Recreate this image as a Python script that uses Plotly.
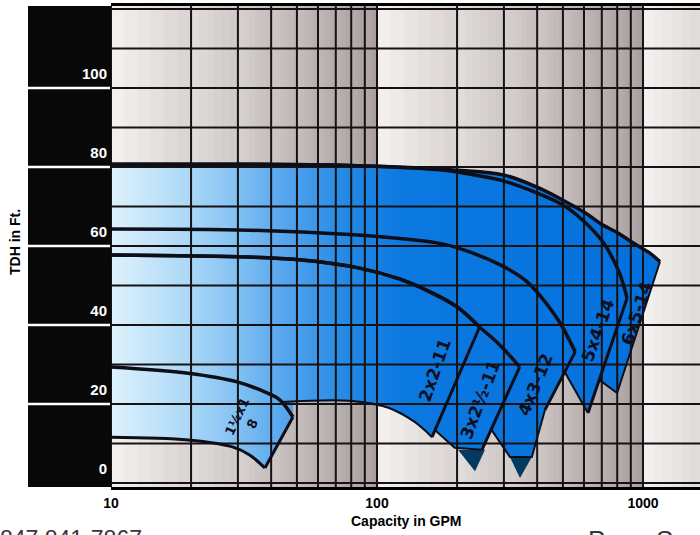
import numpy as np
import plotly.graph_objects as go

# ---------------- data ----------------
x_tick_vals = [10, 100, 1000]
y_tick_vals = [0, 20, 40, 60, 80, 100]
grid_gpm = [10, 20, 30, 40, 50, 60, 70, 80, 90, 100,
            200, 300, 400, 500, 600, 700, 800, 900, 1000]
grid_ft = list(range(0, 121, 10))

# 1 1/2 x 1 - 8
p1_top_gpm = [10, 19.5, 29.8, 38.6, 43.2, 48.3]
p1_top_ft = [29.4, 27.8, 25.6, 22.8, 21.0, 16.7]
p1_bot_gpm = [10, 19.5, 28.8, 33.2, 37.9]
p1_bot_ft = [11.6, 10.9, 9.1, 7.1, 3.8]
p1_hid_gpm = []
p1_hid_ft = []

# 2 x 2 - 11
p2_top_gpm = [10, 33, 51, 86, 122, 158, 200, 243]
p2_top_ft = [57.7, 57.2, 56.5, 54.4, 51.6, 48.4, 44.6, 39.5]
p2_bot_gpm = [43.9, 79, 111, 139, 161]
p2_bot_ft = [20.5, 20.8, 19.0, 15.4, 11.6]
p2_hid_gpm = [10]
p2_hid_ft = [21.0]

# 3 x 2 1/2 - 11
p3_top_gpm = [10, 33, 51, 86, 122, 158, 200, 243, 290, 344]
p3_top_ft = [57.7, 57.2, 56.5, 54.4, 51.6, 48.4, 44.6, 39.5, 34.9, 29.4]
p3_bot_gpm = [165, 196, 248]
p3_bot_ft = [13.4, 8.9, 8.4]
p3_hid_gpm = [130, 10]
p3_hid_ft = [20, 25]

# 4 x 3 - 12
p4_top_gpm = [10, 33, 79, 122, 168, 200, 297, 366, 421, 488, 556]
p4_top_ft = [64.3, 64.0, 62.9, 61.9, 60.8, 59.6, 54.9, 51.0, 46.5, 40.5, 33.2]
p4_bot_gpm = [270, 316, 382, 428]
p4_bot_ft = [13.4, 6.6, 6.6, 18.5]
p4_hid_gpm = [240, 10]
p4_hid_ft = [25, 30]

# 5 x 4 - 14
p5_top_gpm = [10, 79, 172, 200, 298, 400, 500, 592, 707, 815, 871]
p5_top_ft = [80.7, 80.4, 79.3, 78.7, 76.5, 73.4, 70.4, 66.6, 61.0, 53.2, 46.8]
p5_bot_gpm = [508, 621]
p5_bot_ft = [28.1, 17.7]
p5_hid_gpm = [450, 10]
p5_hid_ft = [35, 40]

# 6 x 5 - 14
p6_top_gpm = [10, 79, 200, 298, 400, 500, 600, 707, 805, 917, 1062, 1158]
p6_top_ft = [80.7, 80.4, 79.2, 78.0, 74.9, 71.6, 68.6, 65.3, 63.3, 60.8, 58.2, 56.0]
p6_bot_gpm = [685, 799]
p6_bot_ft = [26.1, 22.8]
p6_hid_gpm = [640, 10]
p6_hid_ft = [32, 45]

# NPSH triangles
t1_gpm = [201.6, 254.7, 233.6]
t1_ft = [8.4, 8.4, 3.0]
t2_gpm = [316, 382, 344.8]
t2_ft = [6.6, 6.6, 1.3]

label_text = ["1½x1<br>8", "2x2-11", "3x2½-11", "4x3-12", "5x4-14", "6x5-14"]
label_gpm = [31.9, 165, 244, 393, 677, 949]
label_ft = [15.9, 28.6, 21.0, 24.8, 38.7, 43.0]
label_angle = [-65, -71, -69, -68, -70, -72]

# ---------------- layout constants ----------------
W, H = 700, 535
ML, MR, MT, MB = 111, 0, 6, 48
X_RANGE = [1.0, 1.0 + (W - ML) / 266.0]
Y_RANGE = [-1.01, 120.76]
PW = W - ML - MR
PH = H - MT - MB

def px_to_paper_x(px):
    return (px - ML) / PW

def px_to_paper_y(py):
    return (H - MB - py) / PH

pumps = [
    (p1_top_gpm, p1_top_ft, p1_bot_gpm, p1_bot_ft, p1_hid_gpm, p1_hid_ft),
    (p2_top_gpm, p2_top_ft, p2_bot_gpm, p2_bot_ft, p2_hid_gpm, p2_hid_ft),
    (p3_top_gpm, p3_top_ft, p3_bot_gpm, p3_bot_ft, p3_hid_gpm, p3_hid_ft),
    (p4_top_gpm, p4_top_ft, p4_bot_gpm, p4_bot_ft, p4_hid_gpm, p4_hid_ft),
    (p5_top_gpm, p5_top_ft, p5_bot_gpm, p5_bot_ft, p5_hid_gpm, p5_hid_ft),
    (p6_top_gpm, p6_top_ft, p6_bot_gpm, p6_bot_ft, p6_hid_gpm, p6_hid_ft),
]

polys = []
for tg, tf, bg, bf, hg, hf in pumps:
    gx = list(tg) + list(bg)[::-1] + list(hg)
    gy = list(tf) + list(bf)[::-1] + list(hf)
    polys.append((np.log10(gx), np.array(gy, dtype=float)))


def extent(lx_poly, y_poly, lx):
    ys = []
    n = len(lx_poly)
    for i in range(n):
        x1, y1 = lx_poly[i], y_poly[i]
        x2, y2 = lx_poly[(i + 1) % n], y_poly[(i + 1) % n]
        if x1 == x2:
            continue
        if min(x1, x2) - 1e-12 <= lx <= max(x1, x2) + 1e-12:
            t = (lx - x1) / (x2 - x1)
            ys.append(y1 + t * (y2 - y1))
    if not ys:
        return None
    return min(ys), max(ys)


max_lx = max(p[0].max() for p in polys)
samples = set(np.round(np.linspace(1.0, max_lx, 1400), 6))
for p in polys:
    for v in p[0]:
        samples.add(round(float(v), 6))
samples = sorted(s for s in samples if 1.0 <= s <= max_lx)

up_x, up_y, lo_y = [], [], []
for s in samples:
    lows, highs = [], []
    for lxp, yp in polys:
        e = extent(lxp, yp, s)
        if e is not None:
            lows.append(e[0])
            highs.append(e[1])
    if lows:
        up_x.append(s)
        up_y.append(max(highs))
        lo_y.append(min(lows))

union_x = list(10 ** np.array(up_x)) + list(10 ** np.array(up_x))[::-1]
union_y = up_y + lo_y[::-1]

fig = go.Figure()

# background grey gradient (per decade, per column)
col_edges = grid_gpm + [10 ** X_RANGE[1] * 1.01]
edges_l = []
zrow = []
for a, b in zip(col_edges[:-1], col_edges[1:]):
    la, lb = np.log10(a), np.log10(b)
    sub = np.linspace(la, lb, 7)
    for i in range(6):
        c = 0.5 * (sub[i] + sub[i + 1])
        f = c - np.floor(c + 1e-9)
        cf = (c - la) / (lb - la)
        zrow.append(float(np.clip(0.85 * f + 0.12 * cf, 0, 1)))
        edges_l.append(sub[i])
edges_l.append(np.log10(col_edges[-1]))
fig.add_trace(go.Heatmap(
    x=list(10 ** np.array(edges_l)), y=[-2, 122], z=[zrow],
    zmin=0, zmax=1, showscale=False, hoverinfo="skip",
    colorscale=[[0, "rgb(244,242,240)"], [0.5, "rgb(208,202,200)"], [1, "rgb(162,152,152)"]],
))

# blue operating region with horizontal gradient
fig.add_trace(go.Scatter(
    x=union_x, y=union_y, mode="lines", fill="toself",
    line=dict(width=0, color="rgba(0,0,0,0)"),
    fillgradient=dict(type="horizontal", colorscale=[
        [0.0, "rgb(222,242,252)"], [0.14, "rgb(172,216,247)"],
        [0.23, "rgb(130,193,243)"], [0.335, "rgb(76,160,236)"],
        [0.435, "rgb(34,135,228)"], [0.53, "rgb(12,121,225)"],
        [1.0, "rgb(4,112,220)"]]),
    hoverinfo="skip", showlegend=False,
))

# NPSH triangles
for tg, tf in [(t1_gpm, t1_ft), (t2_gpm, t2_ft)]:
    fig.add_trace(go.Scatter(
        x=tg + [tg[0]], y=tf + [tf[0]], mode="lines", fill="toself",
        fillcolor="rgb(2,58,98)", line=dict(width=0, color="rgb(2,58,98)"),
        hoverinfo="skip", showlegend=False))

# grid lines (drawn on top of fill)
gx, gy = [], []
for v in grid_gpm:
    gx += [v, v, None]
    gy += [-2, 122, None]
for h in grid_ft:
    gx += [10, 10 ** X_RANGE[1] * 1.01, None]
    gy += [h, h, None]
fig.add_trace(go.Scatter(x=gx, y=gy, mode="lines",
                         line=dict(color="rgb(22,18,20)", width=2),
                         hoverinfo="skip", showlegend=False))

# pump curves
CURVE = "rgb(14,14,24)"
for k, (tg, tf, bg, bf, hg, hf) in enumerate(pumps):
    fig.add_trace(go.Scatter(x=tg, y=tf, mode="lines",
                             line=dict(color=CURVE, width=3.5, shape="spline", smoothing=1),
                             hoverinfo="skip", showlegend=False))
    fig.add_trace(go.Scatter(x=[tg[-1], bg[-1]], y=[tf[-1], bf[-1]], mode="lines",
                             line=dict(color=CURVE, width=3 if k < 5 else 2),
                             hoverinfo="skip", showlegend=False))
    fig.add_trace(go.Scatter(x=bg, y=bf, mode="lines",
                             line=dict(color=CURVE, width=3 if k == 0 else 2,
                                       shape="spline" if k < 2 else "linear"),
                             hoverinfo="skip", showlegend=False))

annotations = []
for t, g, f, a in zip(label_text, label_gpm, label_ft, label_angle):
    annotations.append(dict(
        x=np.log10(g), y=f, xref="x", yref="y", text=t, showarrow=False,
        textangle=a, font=dict(family="DejaVu Sans, Liberation Sans, sans-serif",
                               size=13 if t.startswith("1½") else 17,
                               color="rgb(15,15,30)", weight="bold")))

annotations.append(dict(
    x=px_to_paper_x(15), y=px_to_paper_y(242), xref="paper", yref="paper",
    xanchor="center", yanchor="middle",
    text="<b>TDH in Ft.</b>", textangle=-90, showarrow=False,
    font=dict(family="Liberation Sans, Arial, sans-serif", size=14, color="black")))
annotations.append(dict(
    x=0.5, y=px_to_paper_y(521), xref="paper", yref="paper",
    xanchor="center", yanchor="middle",
    text="<b>Capacity in GPM</b>", showarrow=False,
    font=dict(family="Liberation Sans, Arial, sans-serif", size=14, color="black")))
annotations.append(dict(
    x=px_to_paper_x(-2), y=px_to_paper_y(524), xref="paper", yref="paper",
    xanchor="left", yanchor="top", text="847 841-7867", showarrow=False,
    font=dict(family="Liberation Sans, Arial, sans-serif", size=23, color="rgb(55,55,60)")))
annotations.append(dict(
    x=px_to_paper_x(586), y=px_to_paper_y(523), xref="paper", yref="paper",
    xanchor="left", yanchor="top", text="PumpSu", showarrow=False,
    font=dict(family="Liberation Sans, Arial, sans-serif", size=26, color="rgb(55,55,60)")))

shapes = [dict(type="rect", xref="paper", yref="paper",
               x0=px_to_paper_x(28), x1=0, y0=0, y1=1,
               fillcolor="rgb(8,8,8)", line=dict(width=0), layer="below")]
for v in [20, 40, 60, 80, 100]:
    shapes.append(dict(type="line", xref="paper", yref="y",
                       x0=px_to_paper_x(28), x1=px_to_paper_x(110), y0=v, y1=v,
                       line=dict(color="white", width=2.5), layer="below"))

fig.update_layout(
    width=W, height=H, margin=dict(l=ML, r=MR, t=MT, b=MB),
    paper_bgcolor="white", plot_bgcolor="white",
    showlegend=False, hovermode=False,
    annotations=annotations, shapes=shapes,
    xaxis=dict(type="log", range=X_RANGE, tickvals=x_tick_vals,
               ticktext=[str(v) for v in x_tick_vals], ticks="",
               showgrid=False, zeroline=False, showline=True, mirror=True,
               linecolor="black", linewidth=3, ticklabelstandoff=1,
               tickfont=dict(family="Liberation Sans, Arial, sans-serif", size=14,
                             color="black", weight="bold")),
    yaxis=dict(range=Y_RANGE, tickvals=y_tick_vals, ticks="",
               showgrid=False, zeroline=False, showline=False,
               ticklabelshift=-14, ticklabelstandoff=3,
               tickfont=dict(family="Liberation Sans, Arial, sans-serif", size=15,
                             color="white", weight="bold")),
)

fig.write_html("out.html", config={"displayModeBar": False},
               post_script="document.body.style.margin='0px';")
